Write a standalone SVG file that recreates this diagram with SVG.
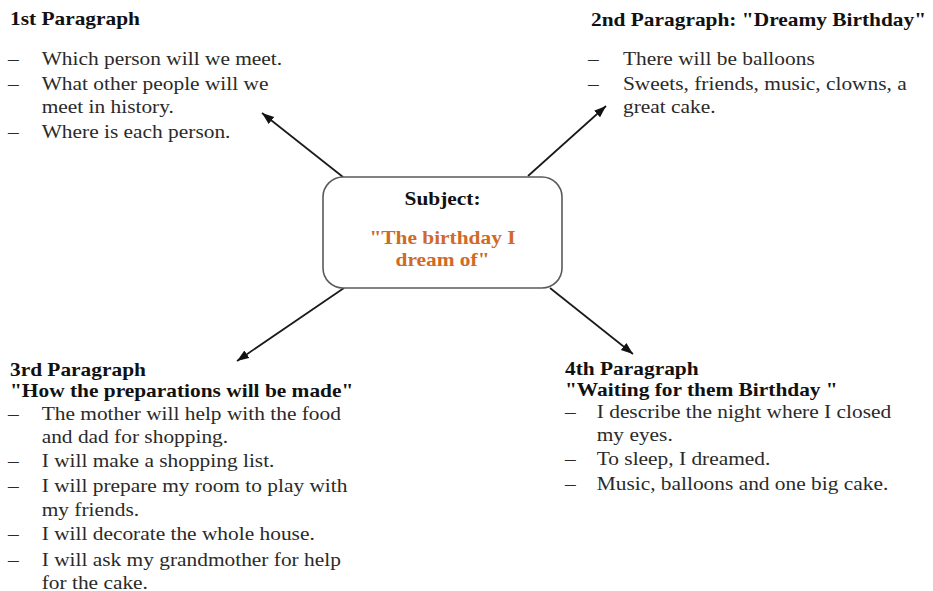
<svg xmlns="http://www.w3.org/2000/svg" width="933" height="591" viewBox="0 0 933 591">
  <defs>
    <style>
      text { font-family: 'Liberation Serif', 'DejaVu Serif', serif; font-size: 18.6px; }
      .head { font-weight: bold; fill: #111111; }
      .body { fill: #2a2a2a; }
      .subj { font-weight: bold; fill: #111111; text-anchor: middle; }
      .title { font-weight: bold; fill: #D06A25; text-anchor: middle; }
      .link { stroke: #1a1a1a; stroke-width: 1.7; fill: none; marker-end: url(#arrow); }
      .box { fill: #ffffff; stroke: #5a5a5a; stroke-width: 1.6; }
    </style>
    <marker id="arrow" markerUnits="userSpaceOnUse" markerWidth="13" markerHeight="10" refX="12" refY="4.5" orient="auto">
      <path d="M0,0 L12,4.5 L0,9 Z" fill="#111111"/>
    </marker>
  </defs>

  <rect width="933" height="591" fill="#ffffff"/>

  <!-- connectors from the subject box to the four paragraphs -->
  <g id="connectors">
    <path class="link" d="M343,177 L262,113"/>
    <path class="link" d="M528,176 L606,106"/>
    <path class="link" d="M344,288 L237,361"/>
    <path class="link" d="M550,288 L633,354"/>
  </g>

  <!-- central subject -->
  <g id="subject">
    <rect class="box" x="323" y="177" width="239" height="111" rx="20" ry="20"/>
    <g transform="translate(442.5 0) scale(1.15 1)">
      <text class="subj" x="0" y="205">Subject:</text>
      <text class="title" x="0" y="244">"The birthday I</text>
      <text class="title" x="0" y="266">dream of"</text>
    </g>
  </g>

  <!-- 1st paragraph -->
  <g id="paragraph1" transform="translate(8 0) scale(1.15 1)">
    <text class="head" x="1.7" y="25">1st Paragraph</text>
    <text class="body" x="0" y="65.5">–</text>
    <text class="body" x="29.3" y="65.5">Which person will we meet.</text>
    <text class="body" x="0" y="90">–</text>
    <text class="body" x="29.3" y="90">What other people will we</text>
    <text class="body" x="29.3" y="113.5">meet in history.</text>
    <text class="body" x="0" y="138">–</text>
    <text class="body" x="29.3" y="138">Where is each person.</text>
  </g>

  <!-- 2nd paragraph -->
  <g id="paragraph2" transform="translate(588 0) scale(1.15 1)">
    <text class="head" x="2.6" y="26">2nd Paragraph: "Dreamy Birthday"</text>
    <text class="body" x="0" y="65">–</text>
    <text class="body" x="30.4" y="65">There will be balloons</text>
    <text class="body" x="0" y="90">–</text>
    <text class="body" x="30.4" y="90">Sweets, friends, music, clowns, a</text>
    <text class="body" x="30.4" y="113">great cake.</text>
  </g>

  <!-- 3rd paragraph -->
  <g id="paragraph3" transform="translate(8 0) scale(1.15 1)">
    <text class="head" x="1.7" y="376">3rd Paragraph</text>
    <text class="head" x="1.7" y="397">"How the preparations will be made"</text>
    <text class="body" x="0" y="420">–</text>
    <text class="body" x="29.3" y="420">The mother will help with the food</text>
    <text class="body" x="29.3" y="443">and dad for shopping.</text>
    <text class="body" x="0" y="467">–</text>
    <text class="body" x="29.3" y="467">I will make a shopping list.</text>
    <text class="body" x="0" y="492.5">–</text>
    <text class="body" x="29.3" y="492.5">I will prepare my room to play with</text>
    <text class="body" x="29.3" y="516.5">my friends.</text>
    <text class="body" x="0" y="540.5">–</text>
    <text class="body" x="29.3" y="540.5">I will decorate the whole house.</text>
    <text class="body" x="0" y="566.5">–</text>
    <text class="body" x="29.3" y="566.5">I will ask my grandmother for help</text>
    <text class="body" x="29.3" y="589">for the cake.</text>
  </g>

  <!-- 4th paragraph -->
  <g id="paragraph4" transform="translate(565 0) scale(1.15 1)">
    <text class="head" x="0" y="375">4th Paragraph</text>
    <text class="head" x="0" y="396">"Waiting for them Birthday "</text>
    <text class="body" x="0" y="418">–</text>
    <text class="body" x="27.6" y="418">I describe the night where I closed</text>
    <text class="body" x="27.6" y="441.5">my eyes.</text>
    <text class="body" x="0" y="465">–</text>
    <text class="body" x="27.6" y="465">To sleep, I dreamed.</text>
    <text class="body" x="0" y="490">–</text>
    <text class="body" x="27.6" y="490">Music, balloons and one big cake.</text>
  </g>
</svg>
